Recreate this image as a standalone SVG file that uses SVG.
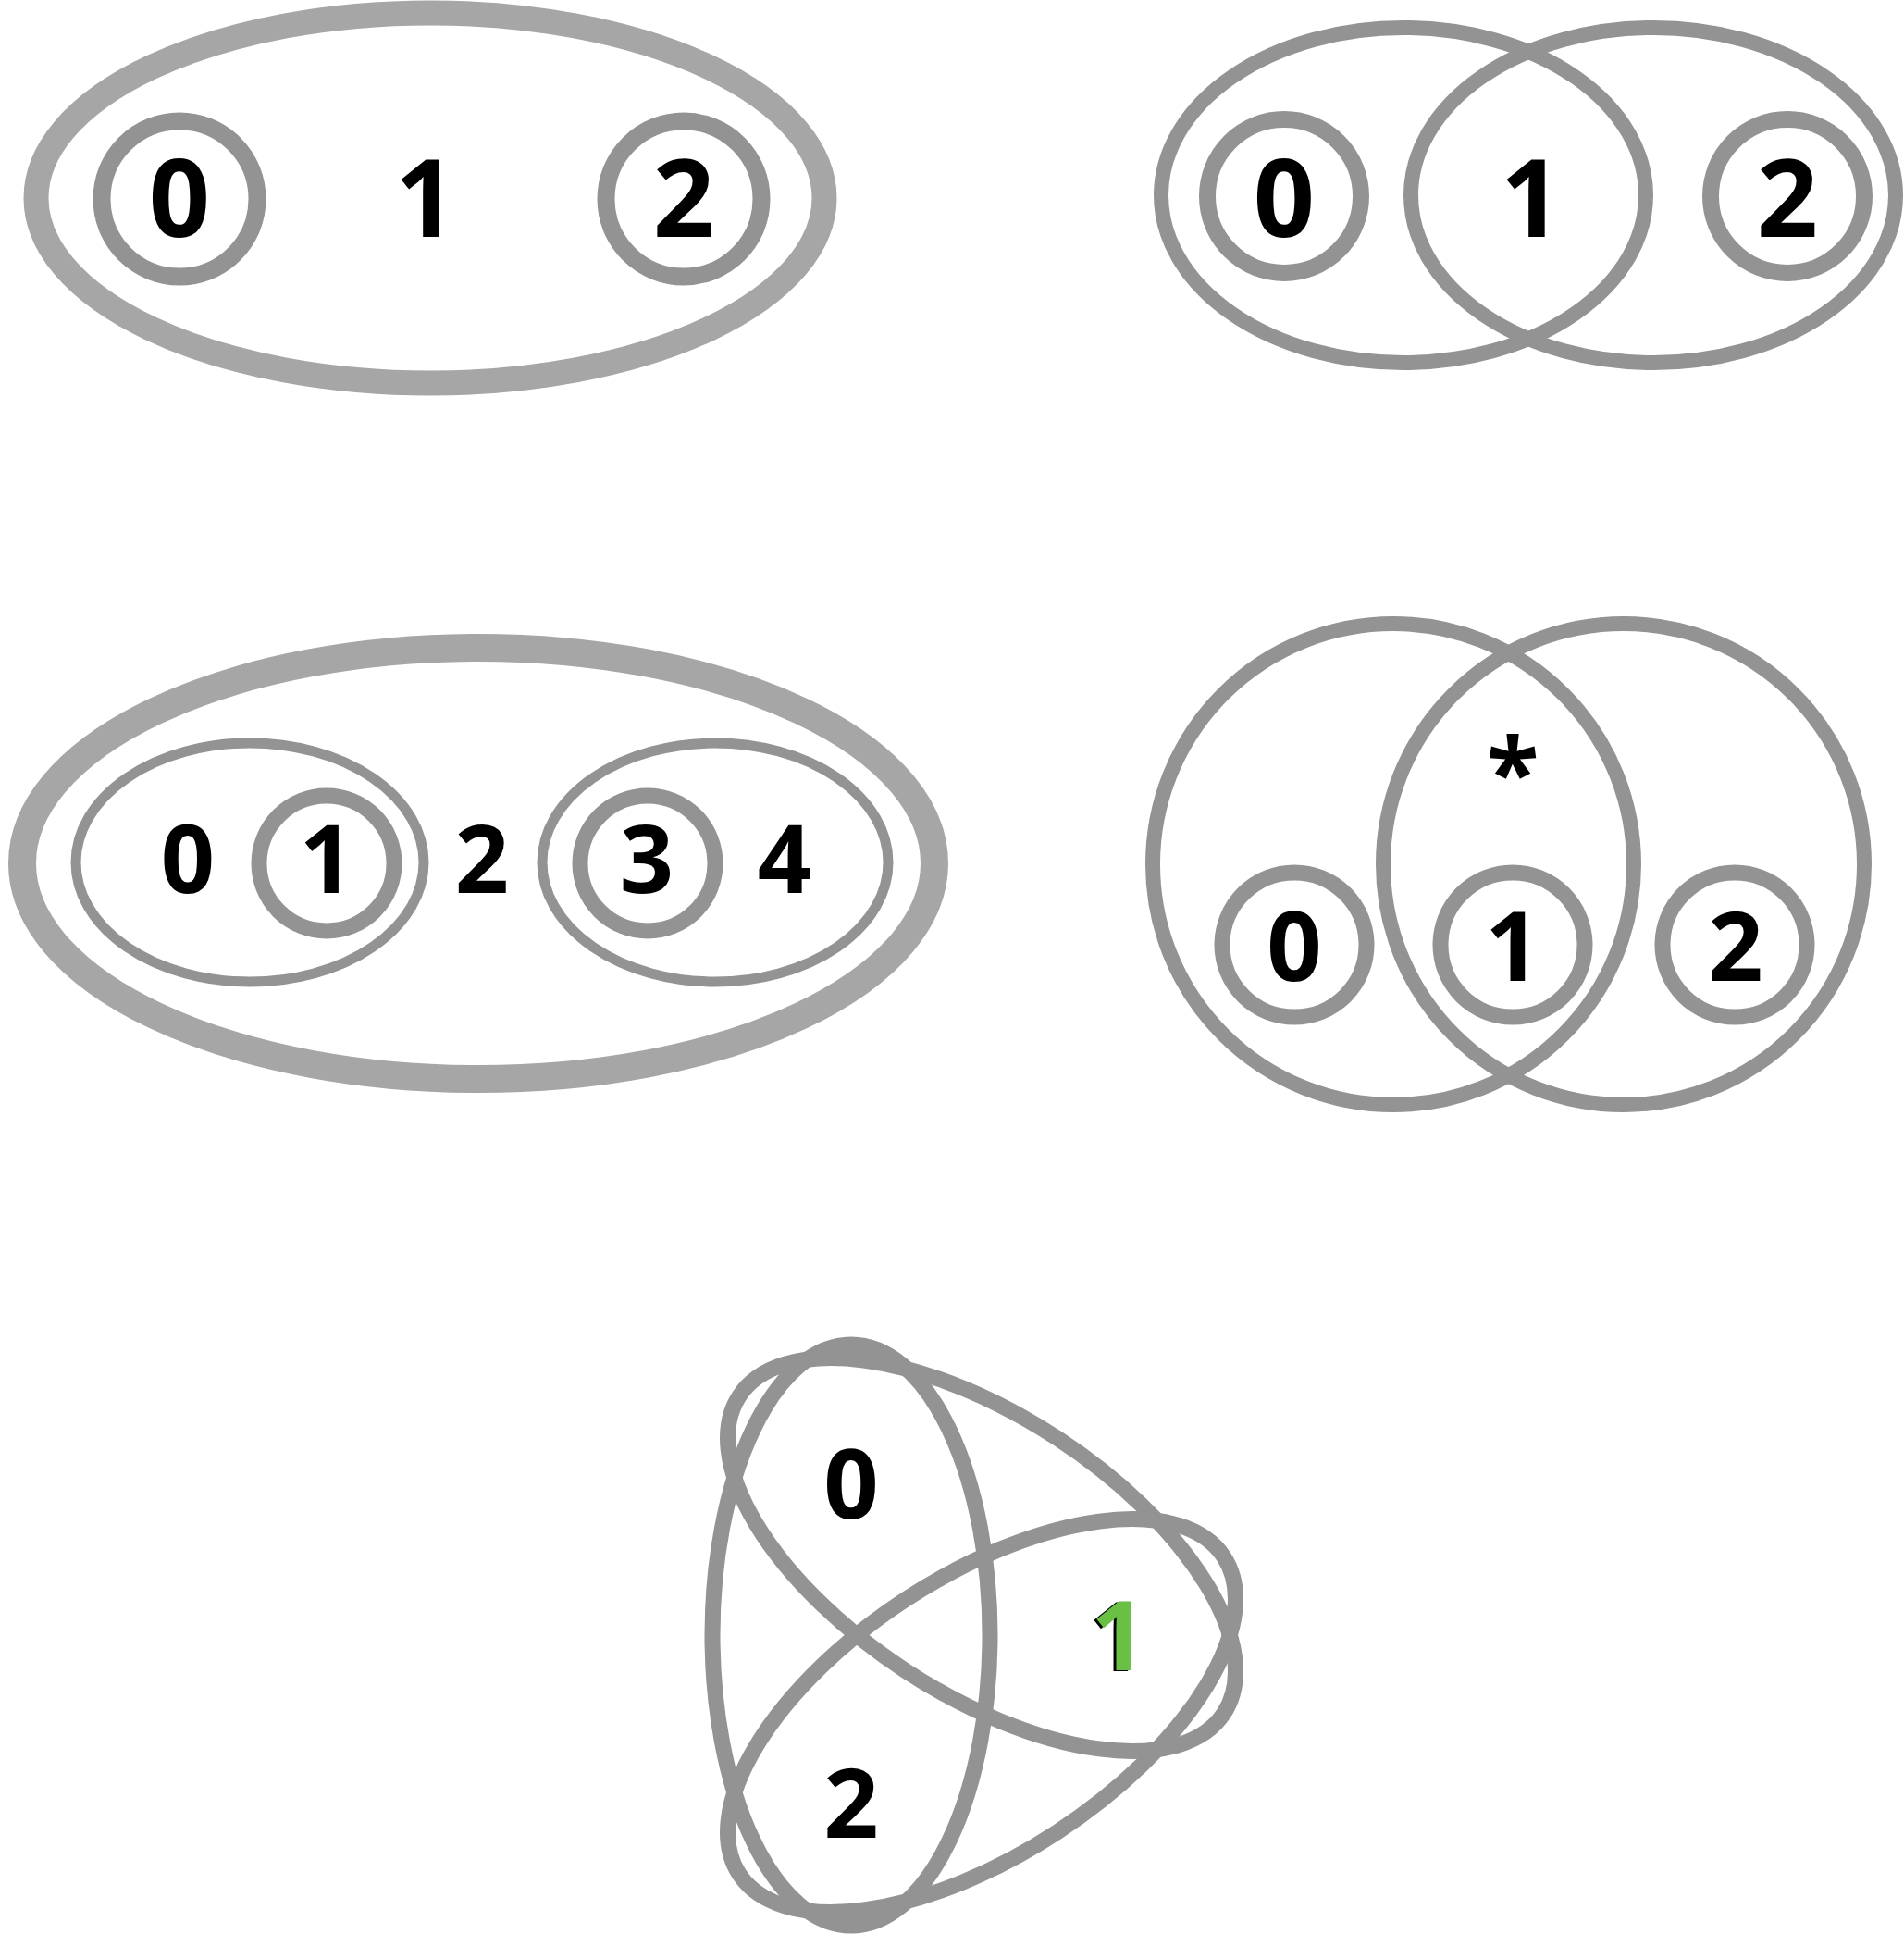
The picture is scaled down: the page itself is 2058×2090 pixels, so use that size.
<svg xmlns="http://www.w3.org/2000/svg" width="2058" height="2090" viewBox="0 0 2058 2090">
<style>
.ring{fill:none;stroke:#939393}
.outer{fill:none;stroke:#a6a6a6}
.t{font-family:"Open Sans","Liberation Sans",sans-serif;font-weight:700;fill:#000;text-anchor:middle}
</style>
<rect width="2058" height="2090" fill="#fff"/>
<g id="diagram1">
<ellipse class="outer" cx="465" cy="214" rx="426" ry="200" stroke-width="27"/>
<circle class="ring" cx="194" cy="215" r="84" stroke-width="19"/>
<circle class="ring" cx="739" cy="215" r="84" stroke-width="19"/>
<text class="t" x="194" y="256" font-size="116">0</text>
<text class="t" x="460" y="256" font-size="116">1</text>
<text class="t" x="739" y="256" font-size="116">2</text>
</g>
<g id="diagram2">
<ellipse class="ring" cx="1517" cy="211" rx="262" ry="181" stroke-width="16"/>
<ellipse class="ring" cx="1787" cy="211" rx="262" ry="181" stroke-width="16"/>
<circle class="ring" cx="1388" cy="212" r="83" stroke-width="18"/>
<circle class="ring" cx="1932" cy="212" r="83" stroke-width="18"/>
<text class="t" x="1388" y="256" font-size="116">0</text>
<text class="t" x="1655" y="256" font-size="116">1</text>
<text class="t" x="1932" y="256" font-size="116">2</text>
</g>
<g id="diagram3">
<ellipse class="outer" cx="517" cy="933" rx="493" ry="233" stroke-width="30"/>
<ellipse class="ring" cx="270" cy="932" rx="188" ry="129" stroke-width="11"/>
<ellipse class="ring" cx="773" cy="932" rx="187" ry="129" stroke-width="11"/>
<circle class="ring" cx="353" cy="933" r="73" stroke-width="17"/>
<circle class="ring" cx="700" cy="933" r="73" stroke-width="17"/>
<text class="t" x="203" y="965" font-size="102">0</text>
<text class="t" x="353" y="965" font-size="102">1</text>
<text class="t" x="521" y="965" font-size="102">2</text>
<text class="t" x="699" y="965" font-size="102">3</text>
<text class="t" x="848" y="965" font-size="102">4</text>
</g>
<g id="diagram4">
<circle class="ring" cx="1506" cy="934" r="260" stroke-width="16"/>
<circle class="ring" cx="1755" cy="934" r="260" stroke-width="16"/>
<circle class="ring" cx="1399" cy="1021" r="78" stroke-width="17"/>
<circle class="ring" cx="1635" cy="1021" r="78" stroke-width="17"/>
<circle class="ring" cx="1875" cy="1021" r="78" stroke-width="17"/>
<text class="t" x="1635" y="872" font-size="104">*</text>
<text class="t" x="1399" y="1060" font-size="104">0</text>
<text class="t" x="1635" y="1060" font-size="104">1</text>
<text class="t" x="1876" y="1060" font-size="104">2</text>
</g>
<g id="diagram5">
<ellipse class="ring" cx="920" cy="1767" rx="150" ry="314" stroke-width="17"/>
<ellipse class="ring" cx="1061" cy="1680" rx="150" ry="313" stroke-width="17" transform="rotate(-56.8 1061 1680)"/>
<ellipse class="ring" cx="1061" cy="1854" rx="150" ry="313" stroke-width="17" transform="rotate(56.8 1061 1854)"/>
<text class="t" x="920" y="1641" font-size="104">0</text>
<text class="t" x="1206" y="1806" font-size="104">1</text>
<text class="t" x="1209" y="1805" font-size="104" style="fill:#6abf45">1</text>
<text class="t" x="920" y="1986" font-size="104">2</text>
</g>
</svg>
